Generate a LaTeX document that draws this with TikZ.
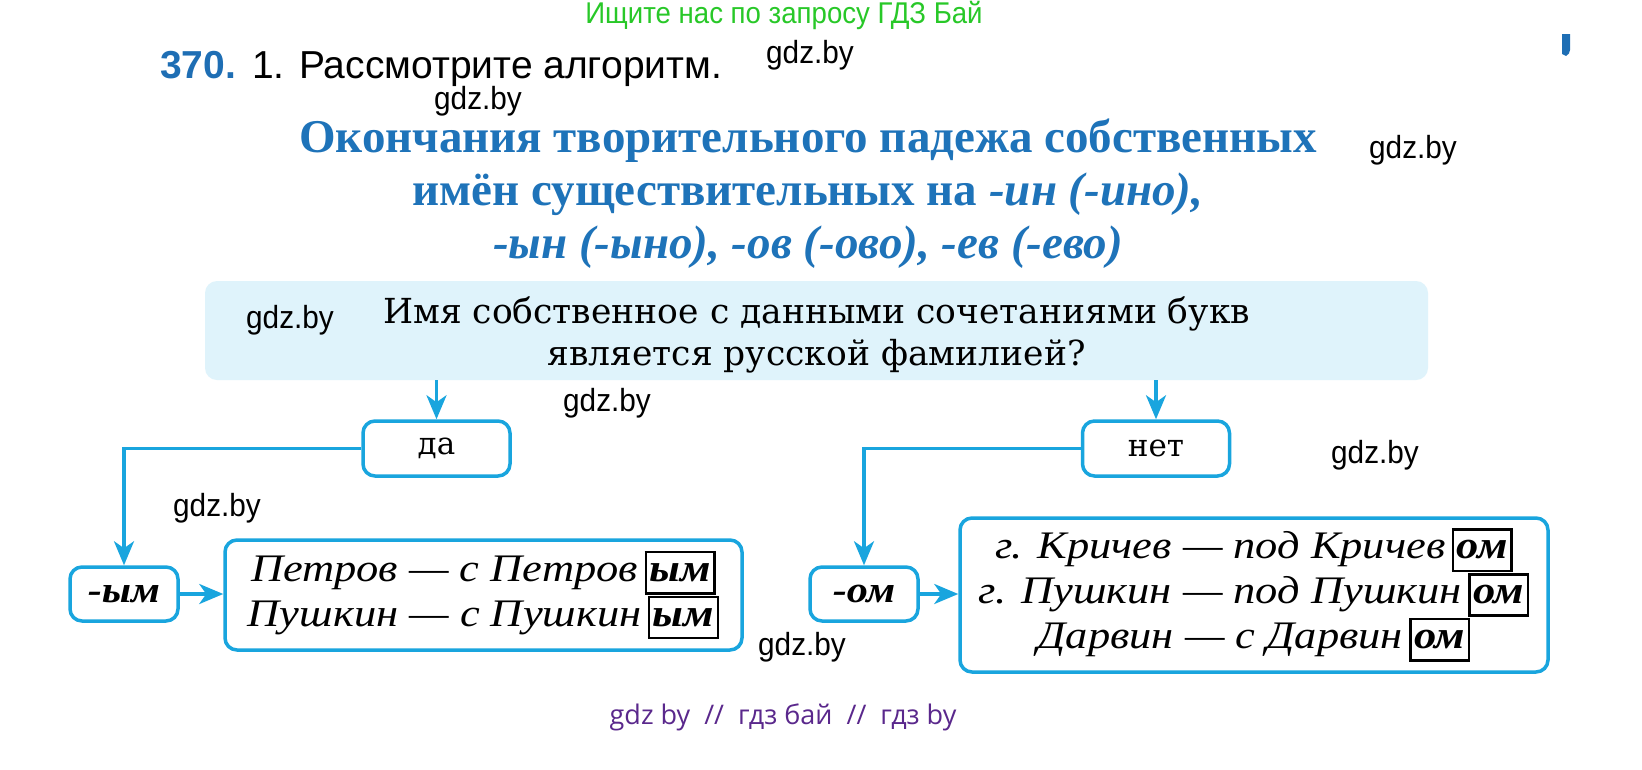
\documentclass[tikz,border=0pt]{standalone}
\usepackage{fontspec}
\setmainfont{Liberation Serif}
\newfontfamily\wmfont[FakeStretch=0.93]{Liberation Sans}
\newfontfamily\greenfont[FakeStretch=0.92]{Liberation Sans}
\newfontfamily\hfont{Liberation Sans}
\newfontfamily\qfont{DejaVu Serif}
\newfontfamily\exfont[FakeStretch=1.14]{Liberation Serif}
\newfontfamily\tfont{Liberation Serif}
\newfontfamily\botfont{Open Sans}
\usetikzlibrary{arrows.meta}
\definecolor{adgreen}{RGB}{40,200,40}
\definecolor{numblue}{RGB}{30,110,180}
\definecolor{titleblue}{RGB}{30,115,185}
\definecolor{lineblue}{RGB}{25,165,222}
\definecolor{qfill}{RGB}{223,243,251}
\definecolor{botpurple}{RGB}{90,40,140}
\newcommand\sufbox[1]{\,{\setlength{\fboxrule}{2.5pt}\setlength{\fboxsep}{2.5pt}\fbox{\bfseries\itshape\vphantom{Пу}#1}}}
\begin{document}
\begin{tikzpicture}[x=1pt,y=-1pt,
  wm/.style={font=\wmfont\fontsize{32}{34}\selectfont, text=black, inner sep=0pt},
  flowbox/.style={draw=lineblue, line width=3.5pt, rounded corners=12pt, fill=white, inner sep=0pt, align=center},
  conn/.style={draw=lineblue, line width=3.5pt},
  arr/.style={conn, -{Stealth[length=24pt,width=20pt,inset=7pt]}},
  exfontstyle/.style={font=\exfont\itshape\fontsize{39}{43}\selectfont},
]
\useasboundingbox[fill=white] (0,0) rectangle (1642,769);

% header
\node[font=\greenfont\fontsize{30}{32}\selectfont, text=adgreen] (ad) at (784,15) {Ищите нас по запросу ГДЗ Бай};
\node[anchor=base west, inner sep=0pt, font=\hfont\bfseries\fontsize{39}{42}\selectfont, text=numblue] (num) at (160,78) {370.};
\node[anchor=base west, inner sep=0pt, font=\hfont\fontsize{39}{42}\selectfont] (task) at (252,78) {1. Рассмотрите алгоритм.};
\fill[numblue] (1562,34) -- (1570,34) -- (1570,50) to[out=-90,in=30] (1566,56) -- (1562,54) -- cycle;

% title
\node[text=titleblue, inner sep=0pt, font=\tfont\bfseries\fontsize{47}{53}\selectfont, align=center] (title) at (808,194)
  {Окончания творительного падежа собственных\\ имён существительных на \textit{-ин (-ино),}\\ \textit{-ын (-ыно), -ов (-ово), -ев (-ево)}};

% question
\node[fill=qfill, rounded corners=12pt, minimum width=1223pt, minimum height=99pt] (q) at (816.5,330.5) {};
\node[align=center, inner sep=0pt, font=\qfont\fontsize{34.5}{42}\selectfont] (qtext) at (816.5,335)
  {Имя собственное с данными сочетаниями букв\\ является русской фамилией?};

% answer boxes
\node[flowbox, minimum width=147pt, minimum height=55pt, font=\qfont\fontsize{31}{36}\selectfont] (da) at (436.5,448.5) {да};
\node[flowbox, minimum width=147pt, minimum height=55pt, font=\qfont\fontsize{31}{36}\selectfont] (net) at (1156,448.5) {нет};

\node[flowbox, minimum width=108pt, minimum height=54pt, font=\exfont\bfseries\itshape\fontsize{37}{40}\selectfont] (ym) at (124,594) {-ым};
\node[flowbox, minimum width=517pt, minimum height=110pt, exfontstyle] (pet) at (483.5,595)
  {Петров — с Петров\sufbox{ым}\\ Пушкин — с Пушкин\sufbox{ым}};

\node[flowbox, minimum width=108pt, minimum height=54pt, font=\exfont\bfseries\itshape\fontsize{37}{40}\selectfont] (om) at (864,594) {-ом};
\node[flowbox, minimum width=588pt, minimum height=154pt, exfontstyle] (kr) at (1254,595)
  {г. Кричев — под Кричев\sufbox{ом}\\ г. Пушкин — под Пушкин\sufbox{ом}\\ Дарвин — с Дарвин\sufbox{ом}};

% connectors
\draw[arr] (q.south -| da.north) -- (da.north);
\draw[arr] (q.south -| net.north) -- (net.north);
\draw[arr] (da.west) -| (ym.north);
\draw[arr] (net.west) -| (om.north);
\draw[arr] (ym.east) -- (ym.east -| pet.west);
\draw[arr] (om.east) -- (om.east -| kr.west);

% watermarks
\node[wm] (w1) at (810,55) {gdz.by};
\node[wm] (w2) at (478,101) {gdz.by};
\node[wm] (w3) at (1413,150) {gdz.by};
\node[wm] (w4) at (290,320) {gdz.by};
\node[wm] (w5) at (607,403) {gdz.by};
\node[wm] (w6) at (1375,455) {gdz.by};
\node[wm] (w7) at (217,508) {gdz.by};
\node[wm] (w8) at (802,647) {gdz.by};

% footer
\node[font=\botfont\fontsize{27}{30}\selectfont, text=botpurple] (bot) at (783,717) {gdz by \ // \ гдз бай \ // \ гдз by};
\end{tikzpicture}
\end{document}
